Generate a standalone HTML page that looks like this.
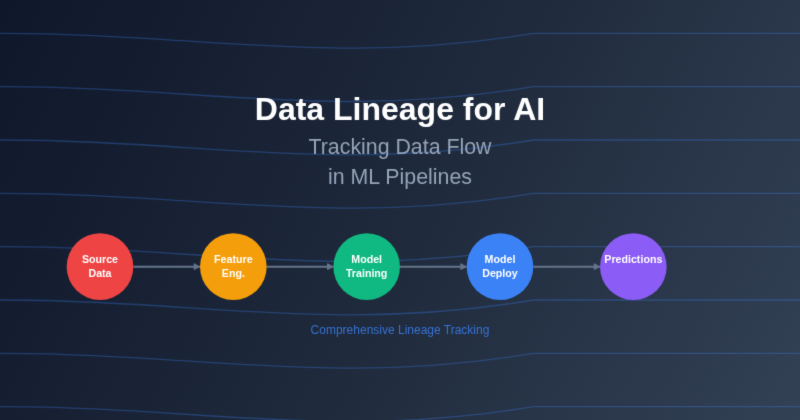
<!DOCTYPE html>
<html><head><meta charset="utf-8">
<style>
html,body{margin:0;padding:0;width:800px;height:420px;overflow:hidden}
body{background:#1e293b;font-family:"Liberation Sans",sans-serif}
svg{position:absolute;left:0;top:0;display:block}
</style></head><body>
<svg width="800" height="420" viewBox="0 0 1200 630">
<defs><filter id="soft" color-interpolation-filters="sRGB" x="0" y="0" width="1200" height="630" filterUnits="userSpaceOnUse"><feConvolveMatrix order="3" kernelMatrix="1 8 1 8 64 8 1 8 1" divisor="100" edgeMode="duplicate"/></filter><linearGradient id="bg" gradientUnits="userSpaceOnUse" x1="0" y1="0" x2="1200" y2="630"><stop offset="0" stop-color="#0f172a"/><stop offset="0.5" stop-color="#1e293b"/><stop offset="1" stop-color="#334155"/></linearGradient></defs>
<g filter="url(#soft)"><rect width="1200" height="630" fill="url(#bg)"/>
<g fill="none" stroke="#3b82f6" stroke-width="2" opacity="0.3">
<path d="M0 50 C300 50 500 100 800 50 L1200 50"/>
<path d="M0 130 C300 130 500 180 800 130 L1200 130"/>
<path d="M0 210 C300 210 500 260 800 210 L1200 210"/>
<path d="M0 290 C300 290 500 340 800 290 L1200 290"/>
<path d="M0 370 C300 370 500 420 800 370 L1200 370"/>
<path d="M0 450 C300 450 500 500 800 450 L1200 450"/>
<path d="M0 530 C300 530 500 580 800 530 L1200 530"/>
<path d="M0 610 C300 610 500 660 800 610 L1200 610"/>
</g>
<g font-family="Liberation Sans" text-anchor="middle">
<text x="600" y="180" font-size="48" font-weight="bold" fill="#ffffff">Data Lineage for AI</text>
<text x="600" y="230.25" font-size="32" fill="#94a3b8">Tracking Data Flow</text>
<text x="600" y="275.25" font-size="32" fill="#94a3b8">in ML Pipelines</text>
</g>
<g stroke="#64748b" stroke-width="3">
<line x1="200" y1="400" x2="300" y2="400"/>
<line x1="400" y1="400" x2="500" y2="400"/>
<line x1="600" y1="400" x2="700" y2="400"/>
<line x1="800" y1="400" x2="900" y2="400"/>
</g>
<g fill="#64748b">
<polygon points="290.5,395 293,395.6 300,400 293,404.4 290.5,405"/>
<polygon points="490.5,395 493,395.6 500,400 493,404.4 490.5,405"/>
<polygon points="690.5,395 693,395.6 700,400 693,404.4 690.5,405"/>
<polygon points="890.5,395 893,395.6 900,400 893,404.4 890.5,405"/>
</g>
<circle cx="150" cy="400" r="50" fill="#ef4444"/>
<circle cx="350" cy="400" r="50" fill="#f59e0b"/>
<circle cx="550" cy="400" r="50" fill="#10b981"/>
<circle cx="750" cy="400" r="50" fill="#3b82f6"/>
<circle cx="950" cy="400" r="50" fill="#8b5cf6"/>
<g font-family="Liberation Sans" font-size="16" font-weight="bold" fill="#ffffff" text-anchor="middle">
<text x="150" y="395">Source<tspan x="150" dy="20">Data</tspan></text>
<text x="350" y="395">Feature<tspan x="350" dy="20">Eng.</tspan></text>
<text x="550" y="395">Model<tspan x="550" dy="20">Training</tspan></text>
<text x="750" y="395">Model<tspan x="750" dy="20">Deploy</tspan></text>
<text x="950" y="395">Predictions</text>
</g>
<text x="600" y="500.5" font-family="Liberation Sans" font-size="18" fill="#3b82f6" opacity="0.8" text-anchor="middle">Comprehensive Lineage Tracking</text>
</g></svg>
</body></html>
